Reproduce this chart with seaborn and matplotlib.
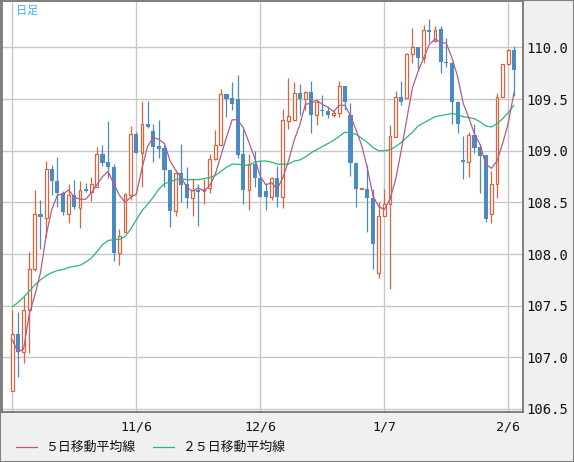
import pandas as pd
import numpy as np
import matplotlib
matplotlib.use("Agg")
import matplotlib.pyplot as plt
import seaborn as sns
from matplotlib.lines import Line2D
from matplotlib.patches import Rectangle

sns.set_theme(style="white")
plt.rcParams['font.family'] = ['Noto Sans CJK JP', 'DejaVu Sans']

# daily candles (USD/JPY), index 0 = 10/7
opens = [106.67, 107.23, 107.055, 107.46, 107.85, 108.39, 108.35, 108.82, 108.71, 108.59,
         108.39, 108.57, 108.45, 108.63, 108.60, 108.65, 108.97, 108.89, 108.84, 108.01,
         108.21, 108.57, 109.16, 108.98, 109.26, 109.19, 109.05, 109.03, 108.81, 108.42,
         108.78, 108.68, 108.54, 108.62, 108.61, 108.64, 108.92, 109.06, 109.55, 109.51,
         109.50, 108.97, 108.62, 108.87, 108.74, 108.61, 108.55, 108.74, 108.55, 109.29,
         109.30, 109.56, 109.50, 109.57, 109.35, 109.39, 109.38, 109.35, 109.37, 109.63,
         109.35, 108.88, 108.63, 108.63, 108.54, 107.82, 108.37, 108.48, 109.13, 109.52,
         109.51, 109.94, 110.00, 109.90, 110.17, 110.06, 110.18, 109.86, 109.85, 109.47,
         108.91, 108.89, 109.15, 109.04, 108.96, 108.39, 108.68, 109.52, 109.84, 109.98]
highs = [107.46, 107.44, 107.60, 108.02, 108.62, 108.52, 108.90, 108.86, 108.94, 108.61,
         108.68, 108.72, 108.71, 108.69, 108.75, 109.04, 109.06, 109.29, 108.87, 108.24,
         108.59, 109.24, 109.18, 109.48, 109.48, 109.26, 109.30, 109.06, 108.81, 108.79,
         109.07, 108.84, 108.74, 108.68, 108.73, 108.97, 109.20, 109.60, 109.55, 109.67,
         109.73, 109.21, 108.97, 109.00, 108.90, 108.69, 108.75, 108.85, 109.40, 109.70,
         109.67, 109.65, 109.58, 109.68, 109.48, 109.54, 109.43, 109.39, 109.68, 109.63,
         109.46, 108.88, 108.64, 108.86, 108.63, 108.50, 108.63, 109.25, 109.58, 109.68,
         109.95, 110.19, 110.00, 110.22, 110.28, 110.21, 110.21, 110.09, 109.86, 109.48,
         109.14, 109.18, 109.26, 109.07, 108.96, 108.80, 109.56, 109.84, 109.99, 110.01]
lows = [106.67, 106.81, 106.94, 107.04, 107.84, 108.05, 108.16, 108.57, 108.46, 108.38,
        108.30, 108.44, 108.25, 108.60, 108.51, 108.65, 108.85, 108.74, 107.93, 107.89,
        108.21, 108.52, 108.98, 108.65, 109.22, 108.89, 108.93, 108.65, 108.26, 108.37,
        108.50, 108.45, 108.37, 108.27, 108.48, 108.59, 108.91, 109.06, 109.33, 109.39,
        108.93, 108.48, 108.43, 108.65, 108.55, 108.43, 108.52, 108.46, 108.45, 109.21,
        109.29, 109.35, 109.39, 109.17, 109.25, 109.34, 109.32, 109.33, 109.33, 109.39,
        108.76, 108.46, 108.63, 108.21, 107.85, 107.77, 108.37, 107.66, 109.13, 109.44,
        109.51, 109.85, 109.78, 109.85, 110.05, 110.05, 109.75, 109.81, 109.26, 109.17,
        108.73, 108.75, 108.98, 108.59, 108.31, 108.30, 108.54, 109.52, 109.83, 109.53]
closes = [107.23, 107.055, 107.46, 107.85, 108.39, 108.36, 108.82, 108.71, 108.59, 108.41,
          108.57, 108.46, 108.62, 108.61, 108.68, 108.97, 108.88, 108.84, 108.01, 108.17,
          108.58, 109.16, 108.98, 109.26, 109.23, 109.04, 109.02, 108.81, 108.42, 108.78,
          108.67, 108.54, 108.62, 108.60, 108.63, 108.92, 109.06, 109.55, 109.50, 109.45,
          108.96, 108.62, 108.87, 108.74, 108.55, 108.55, 108.74, 108.55, 109.30, 109.34,
          109.56, 109.50, 109.57, 109.35, 109.47, 109.38, 109.35, 109.37, 109.63, 109.47,
          108.88, 108.63, 108.635, 108.54, 108.10, 108.37, 108.48, 109.14, 109.52, 109.47,
          109.94, 110.00, 109.90, 110.17, 110.15, 110.17, 109.855, 109.845, 109.47, 109.26,
          108.89, 109.15, 109.03, 108.95, 108.34, 108.68, 109.52, 109.84, 109.98, 109.78]

ma5 = [107.17, 107.05, 107.08, 107.42, 107.60, 107.82, 108.18, 108.43, 108.57, 108.58,
       108.62, 108.55, 108.53, 108.53, 108.59, 108.67, 108.75, 108.80, 108.68, 108.57,
       108.50, 108.55, 108.58, 108.83, 109.04, 109.13, 109.11, 109.07, 108.90, 108.81,
       108.74, 108.64, 108.61, 108.64, 108.61, 108.66, 108.77, 108.95, 109.13, 109.30,
       109.30, 109.22, 109.08, 108.93, 108.75, 108.67, 108.69, 108.63, 108.74, 108.90,
       109.10, 109.25, 109.45, 109.46, 109.49, 109.45, 109.42, 109.38, 109.44, 109.44,
       109.34, 109.20, 109.05, 108.83, 108.56, 108.46, 108.43, 108.53, 108.72, 109.00,
       109.31, 109.61, 109.77, 109.90, 110.03, 110.08, 110.05, 110.04, 109.90, 109.72,
       109.46, 109.32, 109.16, 109.06, 108.87, 108.83, 108.90, 109.07, 109.27, 109.56]
ma25 = [107.49, 107.53, 107.58, 107.64, 107.70, 107.75, 107.79, 107.82, 107.84, 107.85,
        107.87, 107.88, 107.89, 107.92, 107.96, 108.02, 108.09, 108.13, 108.14, 108.14,
        108.17, 108.24, 108.33, 108.42, 108.48, 108.55, 108.63, 108.68, 108.70, 108.72,
        108.73, 108.72, 108.72, 108.72, 108.73, 108.74, 108.76, 108.80, 108.84, 108.87,
        108.87, 108.86, 108.86, 108.89, 108.90, 108.90, 108.89, 108.87, 108.87, 108.87,
        108.90, 108.91, 108.94, 108.98, 109.01, 109.04, 109.07, 109.10, 109.14, 109.18,
        109.17, 109.16, 109.12, 109.08, 109.03, 109.00, 109.00, 109.01, 109.04, 109.08,
        109.13, 109.18, 109.24, 109.27, 109.30, 109.33, 109.34, 109.35, 109.36, 109.35,
        109.33, 109.32, 109.31, 109.28, 109.24, 109.23, 109.26, 109.31, 109.37, 109.44]

tick_pos = [0, 22, 44, 66, 88]
tick_labels = ["", "11/6", "12/6", "1/7", "2/6"]
legend_labels = ["５日移動平均線", "２５日移動平均線"]

UP = "#d9653f"
DOWN = "#4b8bc3"
PINK = "#b55a8a"
GREEN = "#2ab676"

df = pd.DataFrame({"i": np.arange(len(closes)), "open": opens, "high": highs,
                   "low": lows, "close": closes, "ma5": ma5, "ma25": ma25})
up = df[df["close"] >= df["open"]]
dn = df[df["close"] < df["open"]]

W, H = 574, 462
fig = plt.figure(figsize=(W / 100, H / 100), dpi=100, facecolor="#f0f0f0")
ax = fig.add_axes([2 / W, 1 - 412 / H, 521 / W, 411 / H])
ax.set_facecolor("white")

# wicks then bodies
ax.vlines(up["i"], up["low"], up["high"], color=UP, lw=0.9, zorder=2)
ax.vlines(dn["i"], dn["low"], dn["high"], color=DOWN, lw=0.9, zorder=2)
ax.bar(up["i"], (up["close"] - up["open"]).clip(lower=0.004), bottom=up["open"],
       width=0.5, facecolor="white", edgecolor=UP, linewidth=0.9, zorder=3)
ax.bar(dn["i"], dn["open"] - dn["close"], bottom=dn["close"],
       width=0.72, color=DOWN, linewidth=0, zorder=3)

sns.lineplot(data=df, x="i", y="ma25", color=GREEN, lw=0.9, ax=ax, zorder=4, legend=False)
sns.lineplot(data=df, x="i", y="ma5", color=PINK, lw=0.9, ax=ax, zorder=4, legend=False)

ax.set_xlim(-1.83, 90.61)
ax.set_ylim(106.47, 110.45)
ax.set_xlabel("")
ax.set_ylabel("")

yt = np.arange(106.5, 110.01, 0.5)
ax.set_yticks(yt)
ax.set_yticklabels([f"{v:.1f}" for v in yt])
ax.yaxis.tick_right()
ax.set_xticks(tick_pos)
ax.set_xticklabels(tick_labels)
ax.tick_params(axis="y", length=0, pad=2.5, labelsize=10)
ax.tick_params(axis="x", length=0, pad=6, labelsize=9.5)
for lab in ax.get_xticklabels() + ax.get_yticklabels():
    lab.set_fontfamily("DejaVu Sans Mono")
    lab.set_color("#111111")

ax.grid(True, color="#c8c8c8", lw=1)
ax.set_axisbelow(True)
for s in ax.spines.values():
    s.set_color("#757575")
    s.set_linewidth(1.3)

fig.text(16 / W, 1 - 10.5 / H, "日足", color="#3ab4ec", fontsize=8, ha="left", va="center")

# legend drawn by hand along the bottom
ly = 1 - 447 / H
fig.add_artist(Line2D([16 / W, 37 / W], [ly, ly], color=PINK, lw=0.9))
fig.text(45 / W, ly, legend_labels[0], fontsize=9.3, ha="left", va="center", color="#111111")
fig.add_artist(Line2D([153 / W, 174 / W], [ly, ly], color=GREEN, lw=0.9))
fig.text(182 / W, ly, legend_labels[1], fontsize=9.3, ha="left", va="center", color="#111111")

fig.add_artist(Rectangle((0, 0), 1, 1, transform=fig.transFigure, fill=False,
                         edgecolor="#808080", lw=1.5))

fig.savefig("out.png", dpi=100, facecolor=fig.get_facecolor())
